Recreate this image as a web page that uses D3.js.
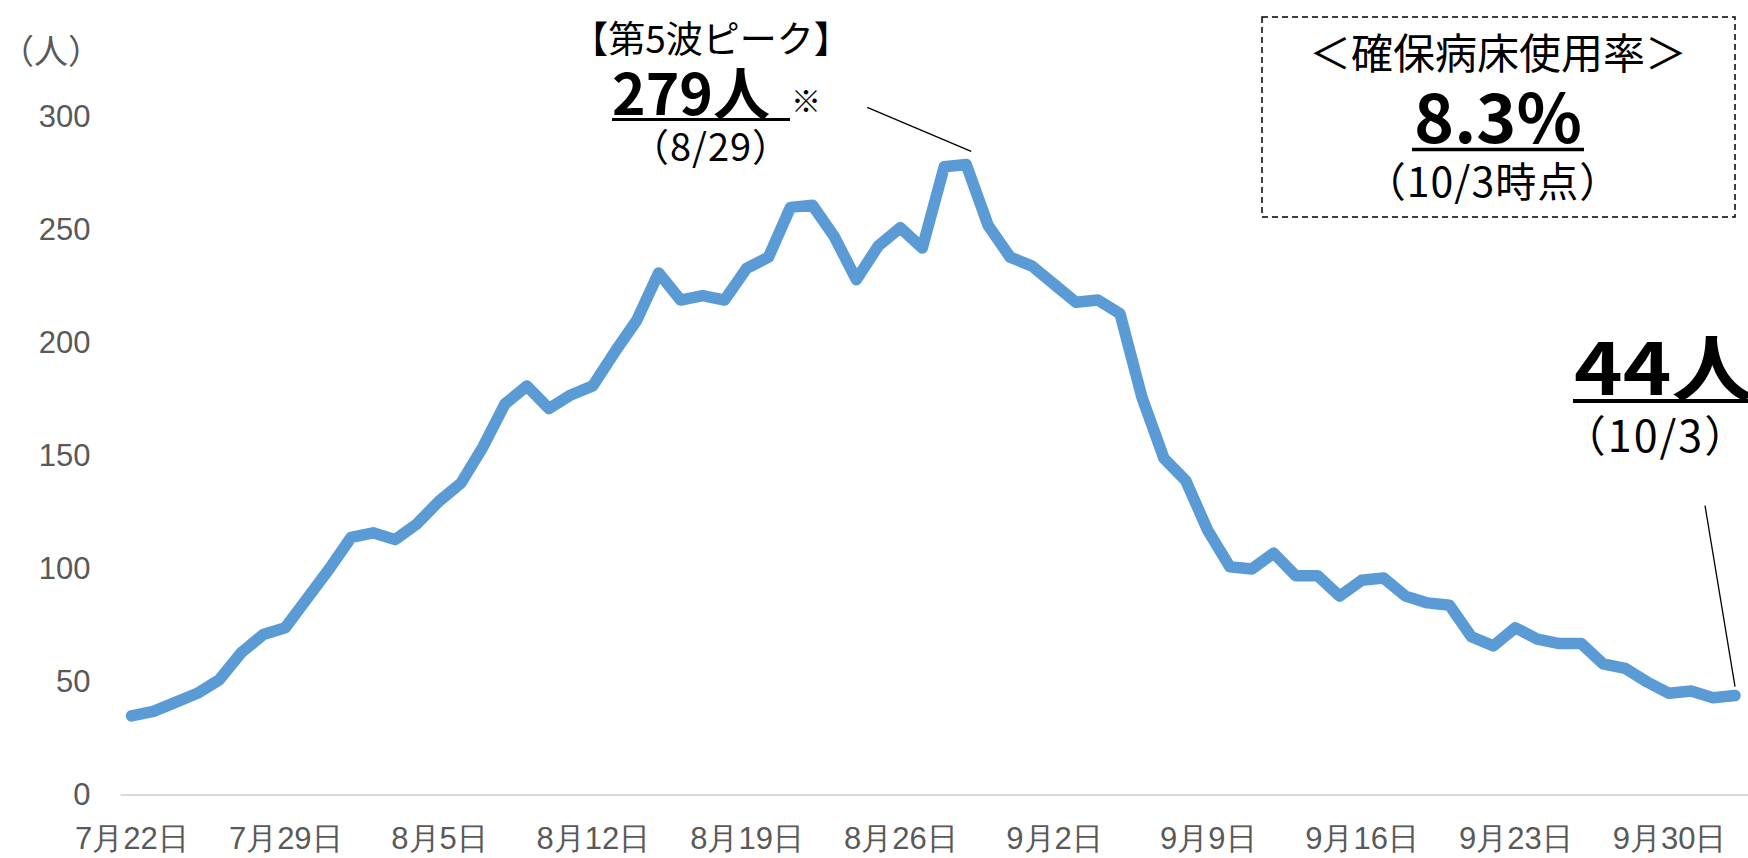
<!DOCTYPE html>
<html>
<head>
<meta charset="utf-8">
<script src="https://cdn.jsdelivr.net/npm/d3@7/dist/d3.min.js"></script>
<style>
	body { margin: 0; background: #fff; }
	svg { display: block; font-family: 'Noto Sans CJK JP', 'Noto Sans', sans-serif; }
</style>
</head>
<body>
<div id="chart"></div>
<script>
'use strict';

// daily inpatients, 7/22 .. 10/3
var firstDay = new Date(2021, 6, 22);
var lastDay = new Date(2021, 9, 3);
var inpatients = [
	35, 37, 41, 45, 51, 63, 71, 74, 87, 100,
	114, 116, 113, 120, 130, 138, 154, 173, 181, 171,
	177, 181, 196, 210, 231, 219, 221, 219, 233, 238,
	260, 261, 247, 228, 243, 251, 242, 278, 279, 252,
	238, 234, 226, 218, 219, 213, 176, 149, 139, 117,
	101, 100, 107, 97, 97, 88, 95, 96, 88, 85,
	84, 70, 66, 74, 69, 67, 67, 58, 56, 50,
	45, 46, 43, 44
];
var yTicks = [0, 50, 100, 150, 200, 250, 300];
var xTickStep = 7;
var unitLabel = '（人）';
var peakIndex = 38;
var peakTitle = '【第5波ピーク】';
var peakValue = '279人';
var peakDate = '（8/29）';
var bedTitle = '＜確保病床使用率＞';
var bedRate = '8.3%';
var bedDate = '（10/3時点）';
var latestValue = '44人';
var latestDate = '（10/3）';

var days = d3.timeDay.range(firstDay, d3.timeDay.offset(lastDay, 1));
var data = days.map(function(d, i){ return {date: d, value: inpatients[i]}; });

var W = 1748, H = 858;
var margin = {top: 117, right: 2, bottom: 63, left: 120.5};
var fmt = d3.timeFormat('%-m月%-d日');

var svg = d3.select('#chart').append('svg')
	.attr('width', W)
	.attr('height', H);

var x = d3.scalePoint()
	.domain(days.map(function(d){ return +d; }))
	.range([margin.left, W - margin.right])
	.padding(0.5);

var y = d3.scaleLinear()
	.domain([0, 300])
	.range([H - margin.bottom, margin.top]);

// baseline
svg.append('line')
	.attr('x1', margin.left)
	.attr('x2', W)
	.attr('y1', y(0))
	.attr('y2', y(0))
	.style('stroke', '#d9d9d9')
	.style('stroke-width', 2);

var yAxis = d3.axisLeft(y).tickValues(yTicks).tickSize(0).tickPadding(30);
svg.append('g')
	.attr('class', 'axis y')
	.attr('transform', 'translate(' + margin.left + ',0)')
	.call(yAxis)
	.call(function(g){ g.select('.domain').remove(); })
	.selectAll('text')
		.style('font-size', '31px')
		.style('font-family', 'inherit')
		.style('fill', '#595959');

var xAxis = d3.axisBottom(x)
	.tickValues(days.filter(function(d, i){ return i % xTickStep === 0; }).map(function(d){ return +d; }))
	.tickFormat(function(d){ return fmt(new Date(d)); })
	.tickSize(0)
	.tickPadding(32);
svg.append('g')
	.attr('class', 'axis x')
	.attr('transform', 'translate(0,' + y(0) + ')')
	.call(xAxis)
	.call(function(g){ g.select('.domain').remove(); })
	.selectAll('text')
		.style('font-size', '31px')
		.style('font-family', 'inherit')
		.style('fill', '#595959');

svg.append('text')
	.attr('x', 0)
	.attr('y', 64)
	.style('font-size', '34px')
	.style('fill', '#595959')
	.text(unitLabel);

var line = d3.line()
	.curve(d3.curveLinear)
	.x(function(d){ return x(+d.date); })
	.y(function(d){ return y(d.value); });

svg.append('path')
	.datum(data)
	.attr('class', 'line')
	.attr('d', line)
	.style('fill', 'none')
	.style('stroke', '#5b9bd5')
	.style('stroke-width', 11.5)
	.style('stroke-linejoin', 'round')
	.style('stroke-linecap', 'round');

// peak annotation
var peak = data[peakIndex];
var px = x(+peak.date), py = y(peak.value);
svg.append('line')
	.attr('x1', px - 99).attr('y1', py - 57)
	.attr('x2', px + 5).attr('y2', py - 13)
	.style('stroke', '#000').style('stroke-width', 1.3);

svg.append('text')
	.attr('x', 711).attr('y', 53)
	.attr('text-anchor', 'middle')
	.style('font-size', '37px')
	.text(peakTitle);
svg.append('text')
	.attr('x', 612).attr('y', 115)
	.style('font-size', '57px')
	.style('font-weight', 'bold')
	.text(peakValue);
svg.append('line')
	.attr('x1', 612).attr('x2', 790)
	.attr('y1', 119.5).attr('y2', 119.5)
	.style('stroke', '#000').style('stroke-width', 3);
svg.append('text')
	.attr('x', 791).attr('y', 112)
	.style('font-size', '30px')
	.text('※');
svg.append('text')
	.attr('x', 711).attr('y', 161)
	.attr('text-anchor', 'middle')
	.style('font-size', '38px')
	.style('letter-spacing', '1px')
	.text(peakDate);

// bed usage box
svg.append('rect')
	.attr('x', 1262).attr('y', 17)
	.attr('width', 473).attr('height', 200)
	.style('fill', 'none')
	.style('stroke', '#000')
	.style('stroke-width', 1.5)
	.style('stroke-dasharray', '6,4');
svg.append('text')
	.attr('x', 1498).attr('y', 69)
	.attr('text-anchor', 'middle')
	.style('font-size', '42px')
	.text(bedTitle);
svg.append('text')
	.attr('x', 1498).attr('y', 143)
	.attr('text-anchor', 'middle')
	.style('font-size', '68px')
	.style('font-weight', 'bold')
	.text(bedRate);
svg.append('line')
	.attr('x1', 1412).attr('x2', 1584)
	.attr('y1', 149.5).attr('y2', 149.5)
	.style('stroke', '#000').style('stroke-width', 3.5);
svg.append('text')
	.attr('x', 1493).attr('y', 197)
	.attr('text-anchor', 'middle')
	.style('font-size', '41px')
	.style('letter-spacing', '1px')
	.text(bedDate);

// latest value annotation
var last = data[data.length - 1];
var lx = x(+last.date), ly = y(last.value);
svg.append('line')
	.attr('x1', lx - 30).attr('y1', ly - 190)
	.attr('x2', lx).attr('y2', ly - 9)
	.style('stroke', '#000').style('stroke-width', 1.3);
svg.append('text')
	.attr('x', 1574).attr('y', 395)
	.attr('textLength', 180)
	.attr('lengthAdjust', 'spacingAndGlyphs')
	.style('font-size', '72px')
	.style('font-weight', 'bold')
	.text(latestValue);
svg.append('line')
	.attr('x1', 1573).attr('x2', W)
	.attr('y1', 401).attr('y2', 401)
	.style('stroke', '#000').style('stroke-width', 4);
svg.append('text')
	.attr('x', 1656).attr('y', 452)
	.attr('text-anchor', 'middle')
	.style('font-size', '43px')
	.style('letter-spacing', '2px')
	.text(latestDate);
</script>
</body>
</html>
